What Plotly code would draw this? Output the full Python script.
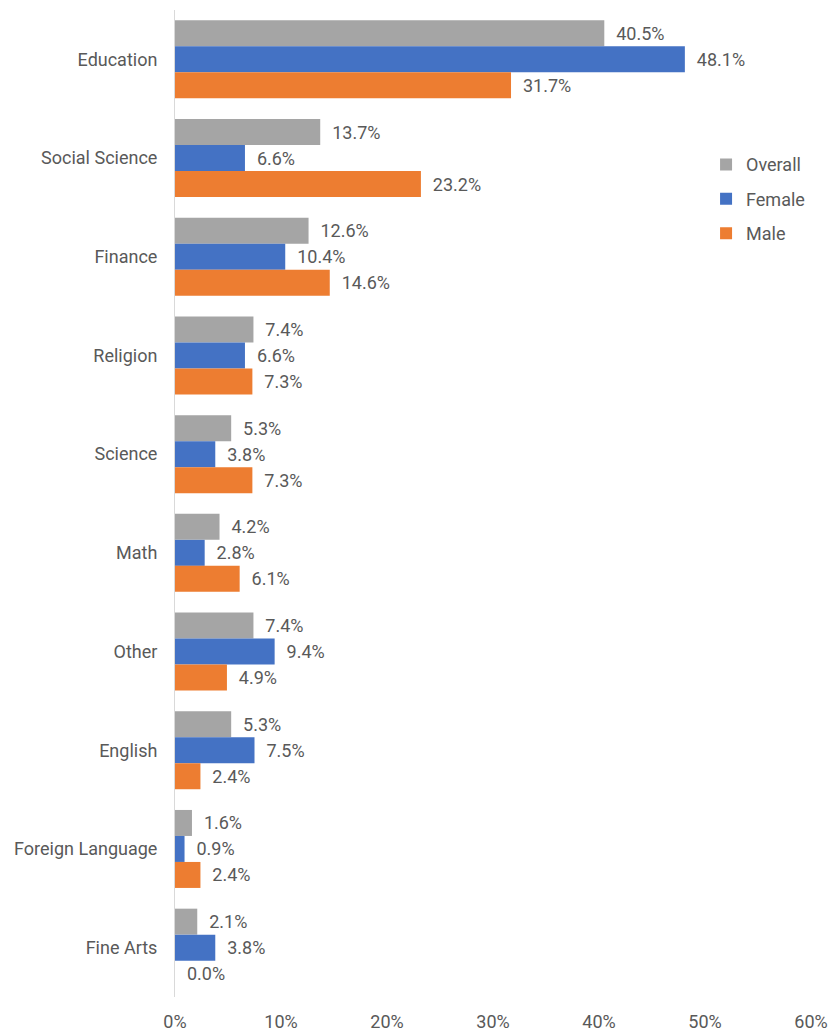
import plotly.graph_objects as go

categories = ["Education", "Social Science", "Finance", "Religion", "Science",
              "Math", "Other", "English", "Foreign Language", "Fine Arts"]
overall = [40.5, 13.7, 12.6, 7.4, 5.3, 4.2, 7.4, 5.3, 1.6, 2.1]
female = [48.1, 6.6, 10.4, 6.6, 3.8, 2.8, 9.4, 7.5, 0.9, 3.8]
male = [31.7, 23.2, 14.6, 7.3, 7.3, 6.1, 4.9, 2.4, 2.4, 0.0]
x_ticks = [0, 10, 20, 30, 40, 50, 60]

series = [
    ("Overall", overall, "#A5A5A5"),
    ("Female", female, "#4472C4"),
    ("Male", male, "#ED7D31"),
]

TEXT = "#595959"
FONT = "Roboto"
SIZE = 18
PAD = "\u00a0\u00a0"

fig = go.Figure()
for name, vals, color in series:
    fig.add_trace(go.Bar(
        name=name,
        legendgroup=name,
        y=categories,
        x=vals,
        orientation="h",
        marker=dict(color=color, line=dict(width=0)),
        text=[f"{PAD}{v:.1f}%" for v in vals],
        textposition="outside",
        textfont=dict(family=FONT, size=SIZE, color=TEXT),
        cliponaxis=False,
    ))

fig.update_layout(
    width=828,
    height=1034,
    margin=dict(l=175, r=17, t=10, b=37, autoexpand=False),
    paper_bgcolor="white",
    plot_bgcolor="white",
    barmode="group",
    bargap=0.21,
    bargroupgap=0,
    font=dict(family=FONT, size=SIZE, color=TEXT),
    uniformtext=dict(minsize=SIZE, mode="show"),
    showlegend=True,
    legend=dict(
        x=0.835, y=0.862, xanchor="left", yanchor="top",
        traceorder="grouped",
        font=dict(family=FONT, size=SIZE, color=TEXT),
        itemwidth=30,
        bgcolor="rgba(0,0,0,0)",
        tracegroupgap=8,
    ),
    xaxis=dict(
        range=[0, 60],
        tickvals=x_ticks,
        ticktext=[f"{t}%" for t in x_ticks],
        showgrid=False,
        zeroline=False,
        showline=False,
        ticks="",
        ticklabelstandoff=12,
        tickfont=dict(family=FONT, size=SIZE, color=TEXT),
        automargin=False,
        fixedrange=True,
    ),
    yaxis=dict(
        autorange="reversed",
        showgrid=False,
        zeroline=False,
        showline=True,
        linecolor="#D9D9D9",
        linewidth=1,
        ticks="",
        ticklabelstandoff=13,
        tickfont=dict(family=FONT, size=SIZE, color=TEXT),
        automargin=False,
        fixedrange=True,
    ),
)

fig.write_html("out.html")
